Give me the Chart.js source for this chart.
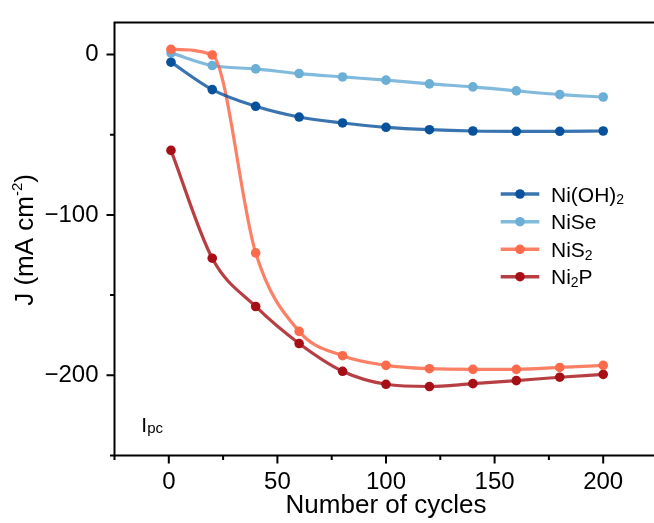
<!DOCTYPE html>
<html><head><meta charset="utf-8">
<script src="https://cdn.jsdelivr.net/npm/chart.js@4.4.0/dist/chart.umd.min.js"></script>
<style>
html,body{margin:0;padding:0;overflow:hidden;background:#fff}
#wrap{position:absolute;left:0;top:0;width:670px;height:523px}
</style>
</head><body><div id="wrap"><canvas id="c"></canvas></div>
<script>
// ---- data ----
const cycles = [1, 20, 40, 60, 80, 100, 120, 140, 160, 180, 200];
const niOH2 = [-4.8, -21.9, -32.3, -39.0, -42.7, -45.4, -46.9, -47.7, -47.9, -47.9, -47.7];
const niSe  = [1.0, -6.9, -9.0, -11.9, -14.0, -16.0, -18.3, -20.2, -22.7, -25.0, -26.5];
const niS2  = [3.2, -0.3, -123.7, -172.6, -187.8, -193.8, -195.9, -196.3, -196.3, -195.1, -193.8];
const ni2P  = [-59.8, -127.0, -157.1, -180.2, -197.5, -205.6, -207.0, -205.2, -203.3, -201.2, -199.4];
const seriesNames = ['Ni(OH)2', 'NiSe', 'NiS2', 'Ni2P'];
// legend text split into [text, isSubscript]
const legendParts = [
  [['Ni(OH)', 0], ['2', 1]],
  [['NiSe', 0]],
  [['NiS', 0], ['2', 1]],
  [['Ni', 0], ['2', 1], ['P', 0]]
];
const xTickLabels = [0, 50, 100, 150, 200];
const yTickLabels = [0, -100, -200];
const xTitle = 'Number of cycles';
const yTitleMain = 'J (mA cm';
const yTitleSup = '-2';
const annotMain = 'I';
const annotSub = 'pc';

const markerColors = ['#08519c', '#6baed6', '#fb6a4a', '#a50f15'];
const lineColors = ['rgba(8,81,156,0.80)', 'rgba(107,174,214,0.85)', 'rgba(251,106,74,0.85)', 'rgba(165,15,21,0.80)'];
const seriesData = [niOH2, niSe, niS2, ni2P];
const drawOrder = [0, 2, 1, 3];

const FONT = '"Liberation Sans", Arial, Helvetica, sans-serif';
Chart.defaults.color = '#000';
Chart.defaults.font.family = FONT;

const datasets = seriesNames.map((name, i) => ({
  label: name,
  data: cycles.map((c, k) => ({x: c, y: seriesData[i][k]})),
  borderColor: lineColors[i],
  backgroundColor: markerColors[i],
  pointBackgroundColor: markerColors[i],
  pointBorderWidth: 0,
  pointRadius: 4.8,
  borderWidth: 3.2,
  cubicInterpolationMode: 'monotone',
  order: drawOrder[i],
  clip: false
}));

const decor = {
  id: 'decor',
  afterDraw(chart) {
    const ctx = chart.ctx;
    const a = chart.chartArea;
    const xs = chart.scales.x, ys = chart.scales.y;
    ctx.save();
    ctx.strokeStyle = '#000';
    ctx.lineWidth = 2;
    ctx.lineCap = 'butt';
    // frame
    ctx.beginPath();
    ctx.moveTo(a.left, a.top); ctx.lineTo(a.right + 2, a.top);
    ctx.moveTo(a.left, a.top - 1); ctx.lineTo(a.left, a.bottom + 1);
    ctx.moveTo(a.left - 1, a.bottom); ctx.lineTo(a.right + 2, a.bottom);
    ctx.moveTo(a.right, a.top); ctx.lineTo(a.right, a.bottom);
    ctx.stroke();
    // ticks
    ctx.beginPath();
    for (let v = -25; v <= 225; v += 25) {
      const px = xs.getPixelForValue(v);
      const len = (v % 50 === 0) ? 8 : 4.5;
      ctx.moveTo(px, a.bottom); ctx.lineTo(px, a.bottom + len);
    }
    for (let v = -250; v <= 0; v += 50) {
      const py = ys.getPixelForValue(v);
      const len = (v % 100 === 0) ? 8 : 4.5;
      ctx.moveTo(a.left, py); ctx.lineTo(a.left - len, py);
    }
    ctx.stroke();

    // y title (with superscript)
    ctx.fillStyle = '#000';
    ctx.translate(33.3, (a.top + a.bottom) / 2 + 1);
    ctx.rotate(-Math.PI / 2);
    ctx.textBaseline = 'alphabetic';
    ctx.textAlign = 'left';
    const fMain = '26px ' + FONT, fSup = '15px ' + FONT;
    ctx.font = fMain; const w1 = ctx.measureText(yTitleMain).width; const w3 = ctx.measureText(')').width;
    ctx.font = fSup; const w2 = ctx.measureText(yTitleSup).width;
    let x0 = -(w1 + w2 + w3) / 2;
    ctx.font = fMain; ctx.fillText(yTitleMain, x0, 0);
    ctx.font = fSup; ctx.fillText(yTitleSup, x0 + w1, -11);
    ctx.font = fMain; ctx.fillText(')', x0 + w1 + w2, 0);
    ctx.setTransform(1, 0, 0, 1, 0, 0);

    // annotation Ipc
    ctx.textAlign = 'left';
    ctx.textBaseline = 'alphabetic';
    ctx.font = '21px ' + FONT;
    ctx.fillText(annotMain, 141.3, 431.7);
    const wI = ctx.measureText(annotMain).width;
    ctx.font = '15px ' + FONT;
    ctx.fillText(annotSub, 141.3 + wI, 432.5);

    // legend
    const rowY = [194, 221.7, 249.3, 276.7];
    legendParts.forEach((parts, i) => {
      const y = rowY[i];
      ctx.strokeStyle = lineColors[i];
      ctx.lineWidth = 3.5;
      ctx.beginPath(); ctx.moveTo(500.7, y); ctx.lineTo(539.3, y); ctx.stroke();
      ctx.fillStyle = markerColors[i];
      ctx.beginPath(); ctx.arc(520, y, 4.8, 0, Math.PI * 2); ctx.fill();
      ctx.fillStyle = '#000';
      let tx = 551;
      parts.forEach(([t, sub]) => {
        ctx.font = (sub ? '14px ' : '21px ') + FONT;
        ctx.fillText(t, tx, y + 7.7 + (sub ? 2.5 : 0));
        tx += ctx.measureText(t).width;
      });
    });
    ctx.restore();
  }
};

new Chart(document.getElementById('c'), {
  type: 'line',
  data: {datasets},
  options: {
    responsive: true,
    maintainAspectRatio: false,
    animation: false,
    events: [],
    layout: {padding: {top: 16.7, right: 12.5, left: 0, bottom: 0}},
    plugins: {legend: {display: false}, tooltip: {enabled: false}},
    scales: {
      x: {
        type: 'linear', min: -25, max: 225,
        grid: {display: false, drawTicks: true, tickLength: 8},
        border: {display: false},
        ticks: {
          stepSize: 25, autoSkip: false, maxRotation: 0, padding: 4,
          font: {size: 24, family: FONT}, color: '#000',
          callback: v => xTickLabels.includes(v) ? String(v) : ''
        },
        title: {display: true, text: xTitle, font: {size: 26, family: FONT}, color: '#000', padding: {top: 0, bottom: 2}},
        afterFit: s => { s.height = 67.5; }
      },
      y: {
        type: 'linear', min: -250, max: 20,
        grid: {display: false, drawTicks: true, tickLength: 8},
        border: {display: false},
        ticks: {
          stepSize: 50, autoSkip: false, padding: 8,
          font: {size: 24, family: FONT}, color: '#000',
          callback: v => yTickLabels.includes(v) ? (v < 0 ? '\u2212' + Math.abs(v) : String(v)) : ''
        },
        afterFit: s => { s.width = 114.5; }
      }
    }
  },
  plugins: [decor]
});
</script>
</body></html>
